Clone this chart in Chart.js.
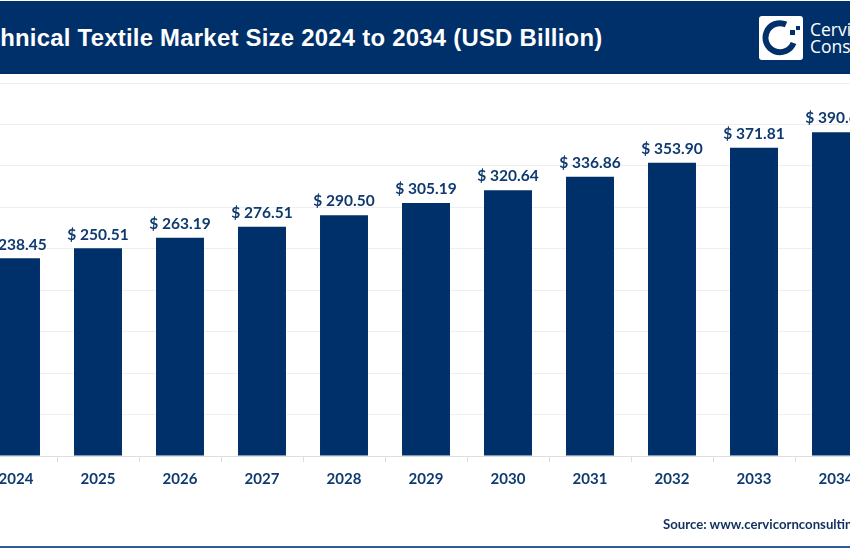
<!DOCTYPE html>
<html>
<head>
<meta charset="utf-8">
<script src="https://cdn.jsdelivr.net/npm/chart.js@4"></script>
<style>
html, body { margin: 0; width: 850px; height: 550px; overflow: hidden; background: #fff; }
#header { position: absolute; left: 0; top: 1px; width: 850px; height: 73px; background: #003069; overflow: hidden; }
#title { position: absolute; left: -40px; top: 23px; white-space: nowrap; color: #fff; font: bold 23.9px "Liberation Sans", sans-serif; letter-spacing: 0.25px; }
#logo { position: absolute; left: 759px; top: 15px; }
#brand { position: absolute; left: 810px; top: 20px; color: #fff; font: 17.5px/17px "Open Sans", sans-serif; white-space: nowrap; }
#wrap { position: absolute; left: -25px; top: 0; width: 902px; height: 550px; }
#source { position: absolute; left: 663px; top: 516px; white-space: nowrap; color: #12305f; font: bold 13.2px Lato, sans-serif; }
#rule { position: absolute; left: 0; top: 546px; width: 850px; height: 2px; background: #2f5c94; }
</style>
</head>
<body>
<div id="wrap"><canvas id="myChart"></canvas></div>
<div id="header">
  <div id="title">Technical Textile Market Size 2024 to 2034 (USD Billion)</div>
  <svg id="logo" width="44" height="44" viewBox="0 0 44 44">
    <rect width="44" height="44" rx="3" fill="#fff"/>
    <path d="M27 8.5 A14.5 14.5 0 1 0 34.5 27" fill="none" stroke="#003069" stroke-width="6"/>
    <rect x="31" y="14" width="5" height="5" fill="#003069"/>
    <rect x="37" y="10" width="4" height="4" fill="#003069"/>
  </svg>
  <div id="brand">Cervicorn<br>Consulting</div>
</div>
<div id="source">Source: www.cervicornconsulting.com</div>
<div id="rule"></div>
<script>
const years = ["2024","2025","2026","2027","2028","2029","2030","2031","2032","2033","2034"];
const marketSize = [238.45,250.51,263.19,276.51,290.50,305.19,320.64,336.86,353.90,371.81,390.63];
const yMax = 450;
const yStep = 50;

const navy = "#003069";

// writes "$ 250.51" over each bar
const barLabels = {
    id: "barLabels",
    afterDatasetsDraw(chart) {
        const c = chart.ctx;
        c.save();
        c.fillStyle = "#0f3a70";
        c.font = "bold 15.5px Lato, sans-serif";
        c.textAlign = "center";
        c.textBaseline = "bottom";
        chart.getDatasetMeta(0).data.forEach((bar, i) => {
            c.fillText("$ " + marketSize[i].toFixed(2), bar.x, bar.y - 6);
        });
        c.restore();
    }
};

const ctx = document.getElementById("myChart").getContext("2d");

new Chart(ctx, {
    type: "bar",
    data: {
        labels: years,
        datasets: [{
            data: marketSize,
            backgroundColor: navy,
            barPercentage: 0.585,
            categoryPercentage: 1,
        }],
    },
    options: {
        responsive: true,
        maintainAspectRatio: false,
        animation: false,
        layout: { padding: { top: 83 } },
        plugins: { legend: { display: false }, tooltip: { enabled: false } },
        scales: {
            x: {
                afterFit: (s) => { s.height = 94; },
                grid: { drawOnChartArea: false, drawTicks: true, tickLength: 6, color: "#dedede" },
                border: { color: "#dedede" },
                ticks: {
                    color: "#0f3a70",
                    padding: 8,
                    maxRotation: 0,
                    font: { family: "Lato, sans-serif", weight: "bold", size: 15 },
                },
            },
            y: {
                min: 0,
                max: yMax,
                afterFit: (s) => { s.width = 0; },
                grid: { color: "#efefef", drawTicks: false },
                border: { display: false },
                ticks: { display: false, stepSize: yStep },
            },
        },
    },
    plugins: [barLabels],
});
</script>
</body>
</html>
